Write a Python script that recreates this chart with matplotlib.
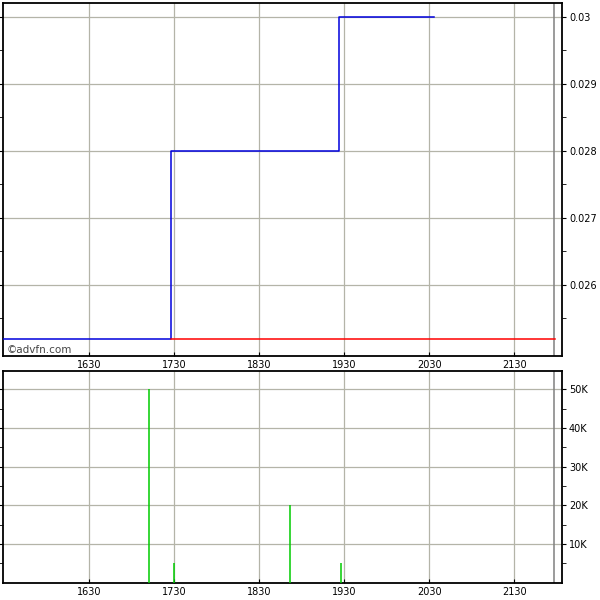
import matplotlib
matplotlib.use('Agg')
import matplotlib.pyplot as plt
from matplotlib.ticker import FixedLocator, FuncFormatter

def mins(t):
    h, m = t.split(':')
    return int(h) * 60 + int(m)

# price (step line)
price_times = ["15:29", "17:28", "19:26", "20:33"]
price_vals = [0.0252, 0.028, 0.030, 0.030]
# previous close reference
prev_close = 0.0252
prev_start, prev_end = "17:28", "21:59"
# volume
vol_times = ["17:12", "17:30", "18:52", "19:28"]
vol_vals = [50000, 5000, 20000, 5000]

xticks = ["16:30", "17:30", "18:30", "19:30", "20:30", "21:30"]
price_ticks = [0.026, 0.027, 0.028, 0.029, 0.030]
vol_ticks = [10000, 20000, 30000, 40000, 50000]

x0, x1 = 929.1, 1323.7
end_line = mins("21:58")

grid_c = '#b4b4a8'
plt.rcParams['font.family'] = 'DejaVu Sans'
plt.rcParams['font.size'] = 7

fig = plt.figure(figsize=(6, 6), dpi=100)
ax1 = fig.add_axes([0.005, 0.4067, 0.9317, 0.5883])
ax2 = fig.add_axes([0.005, 0.0288, 0.9317, 0.3534])

px = [mins(t) for t in price_times]
ax1.plot(px, price_vals, color='#0000dd', lw=1.1, drawstyle='steps-post', zorder=3)
ax1.plot([mins(prev_start), mins(prev_end)], [prev_close, prev_close], color='#ff0000', lw=1.1, zorder=3)
ax1.axvline(end_line, color='#808080', lw=1.1, zorder=2)
ax1.set_xlim(x0, x1)
ax1.set_ylim(0.02494, 0.030209)
ax1.text(0.006, 0.008, '©advfn.com', transform=ax1.transAxes, fontsize=7.5, color='#444444')

vx = [mins(t) for t in vol_times]
ax2.vlines(vx, 0, vol_vals, color='#00cc00', lw=1.1, zorder=3)
ax2.axvline(end_line, color='#808080', lw=1.1, zorder=2)
ax2.set_xlim(x0, x1)
ax2.set_ylim(0, 54800)

tick_pos = [mins(t) for t in xticks]
for ax, yt in ((ax1, price_ticks), (ax2, vol_ticks)):
    ax.set_xticks(tick_pos)
    ax.set_xticklabels([t.replace(':', '') for t in xticks])
    ax.set_yticks(yt)
    step = yt[1] - yt[0]
    ax.yaxis.set_minor_locator(FixedLocator([v - step / 2 for v in yt] + [yt[-1] + step / 2]))
    ax.yaxis.tick_right()
    ax.tick_params(axis='y', which='both', right=True, left=True, direction='out', length=3, pad=2)
    ax.tick_params(axis='x', direction='in', length=3, pad=3)
    ax.grid(True, color=grid_c, lw=0.9, zorder=1)
    for s in ax.spines.values():
        s.set_linewidth(1.3)
        s.set_color('black')

ax1.yaxis.set_major_formatter(FuncFormatter(lambda v, p: ('%.3f' % v).rstrip('0')))
ax2.yaxis.set_major_formatter(FuncFormatter(lambda v, p: '%dK' % (v / 1000)))

fig.savefig('out.png', dpi=100)
